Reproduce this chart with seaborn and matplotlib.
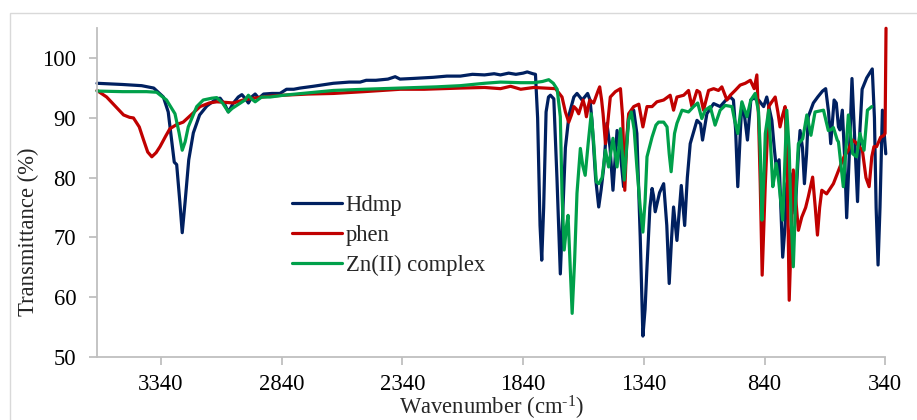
import matplotlib
matplotlib.use("Agg")
import matplotlib.pyplot as plt
import seaborn as sns
from matplotlib.patches import Rectangle

# FT-IR spectra, values
# wavenumber (cm-1) and transmittance (%) for each sample

hdmp_wn = [3605, 3500, 3420, 3370, 3330, 3310, 3295, 3285, 3275, 3262, 3252, 3240,
           3225, 3206, 3180, 3150, 3110, 3095, 3075, 3061, 3040, 3020, 3005, 2990,
           2978, 2962, 2950, 2935, 2915, 2880, 2847, 2820, 2790, 2764, 2709, 2626,
           2560, 2515, 2490, 2450, 2400, 2370, 2350, 2300, 2212, 2156, 2100, 2050,
           2000, 1960, 1934, 1900, 1870, 1840, 1823, 1800, 1789, 1780, 1770, 1763,
           1755, 1745, 1735, 1727, 1713, 1700, 1686, 1675, 1665, 1650, 1630, 1617,
           1605, 1596, 1585, 1573, 1563, 1555, 1540, 1527, 1517, 1506, 1493, 1480,
           1468, 1451, 1437, 1424, 1415, 1403, 1390, 1382, 1369, 1355, 1344, 1335,
           1327, 1315, 1306, 1300, 1293, 1275, 1258, 1245, 1235, 1225, 1217, 1203,
           1185, 1171, 1160, 1148, 1120, 1105, 1097, 1079, 1051, 1024, 1000, 982,
           969, 960, 951, 940, 934, 925, 911, 897, 886, 865, 844, 831, 810, 800,
           792, 780, 765, 755, 748, 734, 714, 700, 693, 683, 675, 666, 659, 638,
           620, 600, 587, 575, 566, 552, 543, 534, 528, 518, 508, 500, 488, 478,
           465, 455, 445, 436, 417, 394, 385, 378, 370, 362, 352, 338]
hdmp_t = [95.8, 95.6, 95.4, 95.0, 93.5, 91.0, 86.0, 82.6, 82.2, 76.0, 70.8, 76.0,
          83.0, 87.5, 90.5, 92.0, 93.2, 93.3, 92.2, 91.0, 92.5, 93.5, 93.9, 93.2,
          92.5, 93.6, 94.0, 93.3, 94.0, 94.1, 94.1, 94.8, 94.8, 95.0, 95.3, 95.8,
          96.0, 96.0, 96.3, 96.3, 96.5, 96.9, 96.5, 96.6, 96.8, 97.0, 97.0, 97.3,
          97.2, 97.4, 97.2, 97.5, 97.3, 97.5, 97.7, 97.4, 97.3, 90.0, 72.0, 66.2,
          75.0, 91.0, 93.5, 93.8, 93.2, 80.0, 63.9, 75.0, 85.0, 90.5, 93.5, 94.1,
          93.5, 93.0, 93.5, 94.1, 93.0, 89.6, 80.0, 75.1, 78.0, 81.8, 89.1, 85.0,
          77.9, 87.9, 84.0, 78.5, 84.0, 90.2, 91.3, 91.3, 87.4, 70.0, 53.5, 58.0,
          65.1, 75.0, 78.2, 77.0, 74.3, 77.5, 79.0, 72.0, 62.3, 70.0, 75.1, 69.5,
          78.7, 72.0, 80.0, 85.7, 89.6, 89.0, 86.3, 90.7, 92.4, 91.9, 93.0, 93.5,
          93.0, 88.0, 78.5, 88.0, 92.4, 91.0, 86.3, 93.0, 93.3, 93.0, 91.9, 93.5,
          89.6, 85.0, 81.8, 83.0, 66.7, 72.0, 79.0, 80.7, 74.0, 84.0, 87.9, 85.0,
          79.0, 84.0, 90.2, 92.5, 93.5, 94.5, 94.9, 91.0, 85.7, 93.0, 92.5, 88.5,
          88.0, 91.3, 83.0, 73.3, 85.0, 96.6, 85.0, 76.0, 88.0, 94.8, 96.7, 98.2,
          90.0, 75.0, 65.4, 75.0, 91.3, 84.0]

phen_wn = [3605, 3565, 3530, 3495, 3470, 3454, 3430, 3412, 3395, 3378, 3360, 3344,
           3320, 3303, 3275, 3248, 3210, 3178, 3140, 3109, 3070, 3040, 3000, 2957,
           2900, 2833, 2730, 2626, 2500, 2349, 2250, 2100, 2000, 1934, 1892, 1850,
           1796, 1750, 1706, 1679, 1665, 1651, 1640, 1630, 1620, 1610, 1600, 1592,
           1585, 1578, 1570, 1564, 1548, 1530, 1523, 1515, 1509, 1499, 1490, 1479,
           1458, 1437, 1428, 1419, 1410, 1403, 1382, 1361, 1344, 1327, 1306, 1286,
           1258, 1231, 1217, 1203, 1175, 1155, 1141, 1120, 1109, 1093, 1072, 1051,
           1031, 1017, 996, 982, 962, 941, 920, 899, 883, 872, 865, 858, 850, 843,
           837, 823, 810, 796, 785, 776, 765, 755, 746, 738, 730, 721, 710, 700,
           686, 670, 659, 641, 630, 621, 612, 603, 583, 555, 528, 511, 493, 476,
           465, 435, 420, 407, 396, 387, 376, 359, 348, 341, 337]
phen_t = [94.6, 93.5, 92.0, 90.5, 90.1, 90.0, 88.5, 86.3, 84.3, 83.5, 84.2, 85.2,
          87.0, 88.2, 88.9, 89.3, 90.7, 91.9, 92.5, 92.7, 92.6, 92.5, 93.0, 93.3,
          93.6, 93.8, 94.0, 94.1, 94.4, 94.8, 94.8, 95.0, 95.1, 94.9, 95.3, 94.8,
          95.1, 95.0, 94.9, 93.5, 91.0, 89.3, 90.5, 91.9, 91.5, 90.7, 92.0, 93.0,
          92.0, 90.2, 92.0, 93.0, 92.5, 94.5, 95.2, 93.0, 90.7, 85.7, 89.0, 93.5,
          94.4, 94.9, 90.2, 77.9, 87.0, 90.7, 91.9, 92.3, 88.5, 91.9, 91.9, 92.7,
          93.0, 93.8, 91.3, 93.5, 93.8, 94.6, 91.9, 94.6, 94.3, 91.3, 94.6, 94.9,
          94.6, 95.2, 93.0, 93.8, 94.6, 95.5, 95.8, 96.3, 94.9, 97.2, 90.0, 79.0,
          63.7, 72.0, 79.0, 91.9, 92.7, 93.5, 91.0, 88.5, 90.5, 91.9, 81.8, 59.5,
          70.0, 81.3, 76.0, 71.2, 73.4, 75.0, 76.8, 80.1, 75.0, 70.4, 75.0, 77.9,
          77.3, 79.0, 81.8, 83.5, 84.6, 86.3, 86.0, 84.6, 80.0, 78.5, 83.5, 85.2,
          85.2, 86.8, 87.0, 87.4, 105.0]

zn_wn = [3605, 3500, 3400, 3358, 3317, 3282, 3265, 3252, 3240, 3227, 3192, 3165,
         3130, 3109, 3085, 3061, 3045, 3026, 2992, 2978, 2965, 2950, 2923, 2888,
         2833, 2730, 2626, 2500, 2349, 2200, 2100, 2000, 1934, 1850, 1796, 1760,
         1734, 1715, 1699, 1686, 1679, 1670, 1660, 1654, 1645, 1637, 1627, 1617,
         1603, 1593, 1583, 1570, 1558, 1548, 1537, 1527, 1513, 1499, 1486, 1468,
         1451, 1437, 1421, 1403, 1392, 1380, 1369, 1355, 1344, 1335, 1327, 1306,
         1290, 1279, 1258, 1244, 1235, 1227, 1213, 1203, 1182, 1155, 1134, 1117,
         1100, 1086, 1065, 1045, 1024, 1003, 975, 964, 951, 934, 913, 897, 879,
         865, 858, 851, 843, 837, 823, 806, 800, 792, 782, 765, 748, 738, 730,
         721, 710, 700, 682, 665, 648, 631, 596, 576, 566, 555, 539, 534, 514,
         493, 475, 459, 445, 428, 414, 396]
zn_t = [94.5, 94.4, 94.4, 94.3, 93.0, 90.7, 87.5, 84.6, 86.0, 88.5, 91.9, 93.0,
        93.3, 93.4, 92.5, 91.0, 91.6, 92.1, 93.0, 93.8, 93.2, 92.7, 93.5, 93.5,
        93.8, 94.2, 94.6, 94.8, 95.0, 95.2, 95.4, 95.8, 96.0, 95.9, 95.9, 96.1,
        96.4, 95.8, 94.8, 90.2, 77.4, 67.9, 72.0, 73.7, 65.0, 57.3, 66.0, 77.4,
        84.9, 82.0, 80.4, 86.0, 90.7, 86.0, 79.3, 79.0, 80.0, 84.6, 81.8, 86.6,
        81.8, 88.2, 79.6, 89.6, 91.0, 88.0, 81.8, 75.0, 70.9, 76.0, 83.5, 86.8,
        88.8, 89.3, 89.3, 88.5, 84.0, 81.0, 87.4, 89.1, 91.3, 91.0, 91.9, 92.5,
        89.9, 91.3, 91.9, 88.8, 91.3, 92.1, 91.9, 89.6, 87.4, 92.7, 90.2, 93.0,
        94.1, 91.0, 84.6, 72.9, 80.0, 87.4, 91.3, 78.5, 80.0, 82.4, 79.6, 72.9,
        91.3, 84.6, 73.0, 65.1, 78.0, 85.7, 86.5, 90.5, 87.1, 91.0, 91.3, 87.9,
        88.0, 88.4, 86.3, 86.0, 78.5, 90.5, 84.0, 83.5, 87.4, 84.6, 91.3, 91.9]

series_names = ["Hdmp", "phen", "Zn(II) complex"]
series_colors = ["#002060", "#C00000", "#00A04A"]

x_ticks = [3340, 2840, 2340, 1840, 1340, 840, 340]
y_ticks = [50, 60, 70, 80, 90, 100]


sns.set_style("ticks")
plt.rcParams["font.family"] = ["Liberation Serif", "DejaVu Serif"]
plt.rcParams["mathtext.fontset"] = "custom"
plt.rcParams["mathtext.rm"] = "Liberation Serif"
plt.rcParams["mathtext.it"] = "Liberation Serif:italic"

FS = 16.3
W, H = 917, 420
fig = plt.figure(figsize=(W / 100, H / 100), dpi=100)
ax = fig.add_axes([97 / W, 1 - 357 / H, (885.3 - 97) / W, (357 - 28.3) / H])

# light chart-area border like the spreadsheet export
fig.patches.append(Rectangle((10 / W, -0.1), 1.2, 1.1 - 13 / H, transform=fig.transFigure,
                             fill=False, edgecolor="#D9D9D9", lw=1.0))

for wn, t, name, col in zip([hdmp_wn, phen_wn, zn_wn], [hdmp_t, phen_t, zn_t],
                            series_names, series_colors):
    sns.lineplot(x=wn, y=t, ax=ax, color=col, lw=2.3, label=name,
                 sort=False, estimator=None)

# spreadsheet charts do not clip the trace at the plot-area edge
for line in ax.lines:
    line.set_clip_on(False)

ax.set_xlim(3605, 340)
ax.set_ylim(50, 105)
ax.set_xticks(x_ticks)
ax.set_yticks(y_ticks)

for side in ["top", "right"]:
    ax.spines[side].set_visible(False)
for side in ["left", "bottom"]:
    ax.spines[side].set_color("#BFBFBF")
    ax.spines[side].set_linewidth(1.3)
ax.tick_params(axis="both", colors="#BFBFBF", labelcolor="black", labelsize=FS,
               length=6, width=1.3, direction="out")
ax.tick_params(axis="y", pad=9)
ax.tick_params(axis="x", pad=6)

ax.set_xlabel("Wavenumber (cm$^{\\text{-1}}$)", fontsize=FS)
ax.xaxis.set_label_coords(0.5, -0.1745)
ax.xaxis.label.set_verticalalignment("baseline")
ax.set_ylabel("Transmittance (%)", fontsize=FS)
ax.yaxis.set_label_coords(-0.073, 0.38)

ax.legend(loc="center left", bbox_to_anchor=(0.2335, 0.37), frameon=False, fontsize=FS,
          handlelength=2.2, handletextpad=0.15, labelspacing=0.4, borderpad=0)

fig.savefig("out.png", dpi=100)
